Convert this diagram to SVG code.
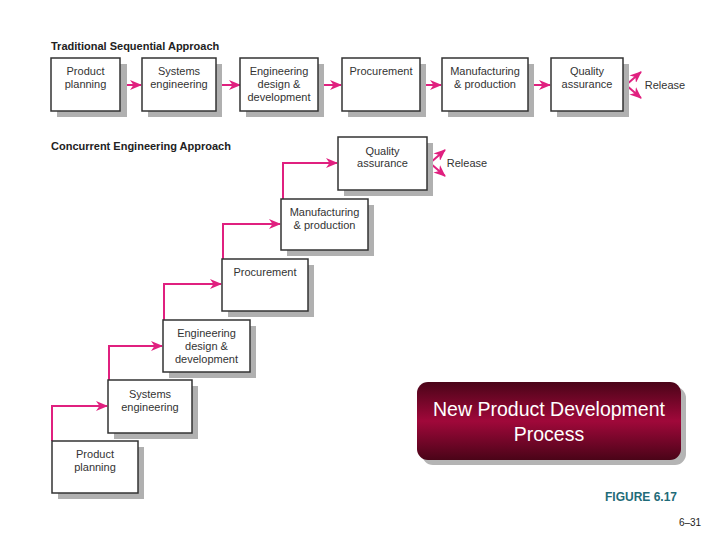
<svg xmlns="http://www.w3.org/2000/svg" width="720" height="540" viewBox="0 0 720 540">
<defs>
<style>
.sh{fill:#b0b0b0}
.bx{fill:#fff;stroke:#333;stroke-width:1.5}
.t{font-family:"Liberation Sans",Arial,sans-serif;font-size:11px;fill:#333;text-anchor:middle}
.h{font-family:"Liberation Sans",Arial,sans-serif;font-size:11px;font-weight:bold;fill:#222}
.c{fill:none;stroke:#e0207f;stroke-width:2}
</style>
<marker id="ah" markerWidth="12" markerHeight="10" refX="11" refY="5" orient="auto" markerUnits="userSpaceOnUse">
<path d="M0,0 L12,5 L0,10 L3.5,5 Z" fill="#e0207f"/>
</marker>
<linearGradient id="gv" x1="0" y1="0" x2="0" y2="1">
<stop offset="0" stop-color="#4a0418"/>
<stop offset="0.5" stop-color="#a0083a"/>
<stop offset="1" stop-color="#4a0418"/>
</linearGradient>
</defs>
<rect width="720" height="540" fill="#fff"/>
<text class="h" x="51" y="50">Traditional Sequential Approach</text>
<text class="h" x="51" y="150">Concurrent Engineering Approach</text>

<g id="connectors">
<line class="c" x1="121" y1="85" x2="141" y2="85" marker-end="url(#ah)"/>
<line class="c" x1="217" y1="85" x2="240" y2="85" marker-end="url(#ah)"/>
<line class="c" x1="319" y1="85" x2="341" y2="85" marker-end="url(#ah)"/>
<line class="c" x1="421" y1="85" x2="441" y2="85" marker-end="url(#ah)"/>
<line class="c" x1="529" y1="85" x2="550" y2="85" marker-end="url(#ah)"/>
<path class="c" d="M626,85 L641,72" marker-end="url(#ah)"/>
<path class="c" d="M626,85 L641,98" marker-end="url(#ah)"/>
<path class="c" d="M52,441 V406 H107" marker-end="url(#ah)"/>
<path class="c" d="M109,380 V346 H162" marker-end="url(#ah)"/>
<path class="c" d="M164,320 V284 H221" marker-end="url(#ah)"/>
<path class="c" d="M223,259 V224 H280" marker-end="url(#ah)"/>
<path class="c" d="M283,199 V163 H337" marker-end="url(#ah)"/>
<path class="c" d="M430,163 L445,150" marker-end="url(#ah)"/>
<path class="c" d="M430,163 L445,176" marker-end="url(#ah)"/>
</g>

<g id="s1"><rect class="sh" x="57" y="64" width="70" height="53"/><rect class="bx" x="51" y="58" width="69" height="53"/><text class="t" x="85.5" y="75">Product</text><text class="t" x="85.5" y="88">planning</text></g>
<g id="s2"><rect class="sh" x="148" y="64" width="74" height="53"/><rect class="bx" x="142" y="58" width="74" height="53"/><text class="t" x="179" y="75">Systems</text><text class="t" x="179" y="88">engineering</text></g>
<g id="s3"><rect class="sh" x="246" y="64" width="78" height="53"/><rect class="bx" x="240" y="58" width="78" height="53"/><text class="t" x="279" y="75">Engineering</text><text class="t" x="279" y="88">design &amp;</text><text class="t" x="279" y="101">development</text></g>
<g id="s4"><rect class="sh" x="348" y="64" width="78" height="53"/><rect class="bx" x="342" y="58" width="78" height="53"/><text class="t" x="381" y="75">Procurement</text></g>
<g id="s5"><rect class="sh" x="448" y="64" width="86" height="53"/><rect class="bx" x="442" y="58" width="86" height="53"/><text class="t" x="485" y="75">Manufacturing</text><text class="t" x="485" y="88">&amp; production</text></g>
<g id="s6"><rect class="sh" x="557" y="64" width="72" height="53"/><rect class="bx" x="551" y="58" width="72" height="53"/><text class="t" x="587" y="75">Quality</text><text class="t" x="587" y="88">assurance</text></g>
<text class="t" x="665" y="89">Release</text>

<g id="c6"><rect class="sh" x="344" y="143" width="89" height="53"/><rect class="bx" x="338" y="137" width="89" height="53"/><text class="t" x="382.5" y="155">Quality</text><text class="t" x="382.5" y="167">assurance</text></g>
<text class="t" x="467" y="167">Release</text>
<g id="c5"><rect class="sh" x="287" y="205" width="87" height="51"/><rect class="bx" x="281" y="199" width="87" height="51"/><text class="t" x="324.5" y="216">Manufacturing</text><text class="t" x="324.5" y="229">&amp; production</text></g>
<g id="c4"><rect class="sh" x="228" y="265" width="86" height="52"/><rect class="bx" x="222" y="259" width="86" height="52"/><text class="t" x="265" y="276">Procurement</text></g>
<g id="c3"><rect class="sh" x="169" y="326" width="87" height="52"/><rect class="bx" x="163" y="320" width="87" height="52"/><text class="t" x="206.5" y="337">Engineering</text><text class="t" x="206.5" y="350">design &amp;</text><text class="t" x="206.5" y="363">development</text></g>
<g id="c2"><rect class="sh" x="114" y="386" width="84" height="53"/><rect class="bx" x="108" y="380" width="84" height="53"/><text class="t" x="150" y="398">Systems</text><text class="t" x="150" y="411">engineering</text></g>
<g id="c1"><rect class="sh" x="58" y="447" width="86" height="52"/><rect class="bx" x="52" y="441" width="86" height="52"/><text class="t" x="95" y="458">Product</text><text class="t" x="95" y="471">planning</text></g>

<g id="title">
<rect x="422" y="387" width="264" height="78" rx="11" fill="#b4b4b4"/>
<rect x="417" y="382" width="264" height="78" rx="11" fill="url(#gv)"/>
<text x="549" y="416" font-family="Liberation Sans,Arial,sans-serif" font-size="19.5" fill="#fff" text-anchor="middle">New Product Development</text>
<text x="549" y="441" font-family="Liberation Sans,Arial,sans-serif" font-size="19.5" fill="#fff" text-anchor="middle">Process</text>
</g>
<text x="641" y="501" font-family="Liberation Sans,Arial,sans-serif" font-size="12" font-weight="bold" fill="#1f6b78" text-anchor="middle">FIGURE 6.17</text>
<text x="690" y="526" font-family="Liberation Sans,Arial,sans-serif" font-size="10" fill="#222" text-anchor="middle">6–31</text>
</svg>
